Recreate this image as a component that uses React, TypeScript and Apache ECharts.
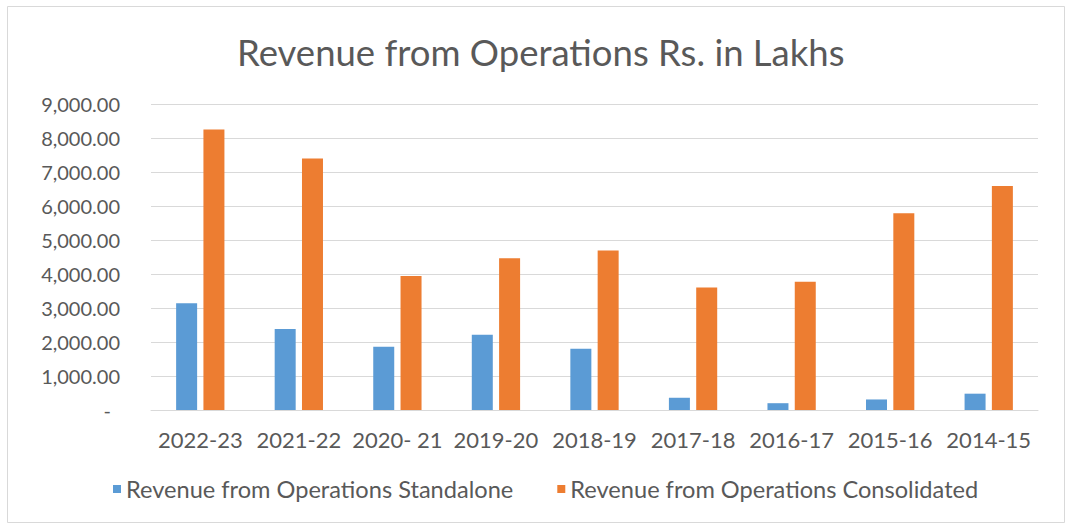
import React, { useEffect, useRef } from "react";
import * as echarts from "echarts";

const categories = ["2022-23", "2021-22", "2020- 21", "2019-20", "2018-19", "2017-18", "2016-17", "2015-16", "2014-15"];
const standalone = [3140, 2380, 1860, 2210, 1800, 360, 200, 310, 480];
const consolidated = [8250, 7400, 3940, 4460, 4690, 3600, 3770, 5790, 6590];
const seriesNames = ["Revenue from Operations Standalone", "Revenue from Operations Consolidated"];
const titleText = "Revenue from Operations Rs. in Lakhs";

const FONT = "Lato, 'Open Sans', sans-serif";
const TEXT = "#595959";

export default function App() {
  const ref = useRef<HTMLDivElement>(null);
  useEffect(() => {
    if (!ref.current) return;
    const chart = echarts.init(ref.current, undefined, { renderer: "svg" });
    chart.setOption({
      animation: false,
      backgroundColor: "#ffffff",
      title: {
        text: titleText,
        left: 232,
        top: 28,
        textStyle: { color: TEXT, fontFamily: FONT, fontSize: 36.5, fontWeight: "normal" },
      },
      graphic: [
        {
          type: "rect",
          shape: { x: 7.5, y: 6.5, width: 1057, height: 516 },
          style: { fill: "none", stroke: "#d9d9d9", lineWidth: 1 },
          silent: true,
        },
      ],
      legend: {
        bottom: 20,
        left: 108,
        icon: "rect",
        itemWidth: 8,
        itemHeight: 8,
        itemGap: 44,
        textStyle: { color: TEXT, fontFamily: FONT, fontSize: 23.6 },
        data: seriesNames,
      },
      grid: { left: 151, right: 28, top: 104, bottom: 116, containLabel: false },
      xAxis: {
        type: "category",
        data: categories,
        axisLine: { lineStyle: { color: "#d9d9d9" } },
        axisTick: { show: false },
        axisLabel: { color: TEXT, fontFamily: FONT, fontSize: 22, margin: 18, interval: 0 },
      },
      yAxis: {
        type: "value",
        min: 0,
        max: 9000,
        interval: 1000,
        axisLine: { show: false },
        axisTick: { show: false },
        splitLine: { lineStyle: { color: "#d9d9d9", width: 1 } },
        axisLabel: {
          color: TEXT,
          fontFamily: FONT,
          fontSize: 20,
          margin: 31,
          formatter: (v: number) =>
            v === 0
              ? "{d|-}"
              : v.toLocaleString("en-US", { minimumFractionDigits: 2, maximumFractionDigits: 2 }),
          rich: { d: { color: TEXT, fontFamily: FONT, fontSize: 20, padding: [0, 9, 0, 0] } },
        },
      },
      series: [
        {
          name: seriesNames[0],
          type: "bar",
          data: standalone,
          barWidth: 21,
          barGap: "30%",
          itemStyle: { color: "#5B9BD5" },
        },
        {
          name: seriesNames[1],
          type: "bar",
          data: consolidated,
          barWidth: 21,
          barGap: "30%",
          itemStyle: { color: "#ED7D31" },
        },
      ],
    });
    return () => chart.dispose();
  }, []);
  return (
    <div
      ref={ref}
      style={{ position: "absolute", left: 0, top: 0, width: 1066, height: 526 }}
    />
  );
}
